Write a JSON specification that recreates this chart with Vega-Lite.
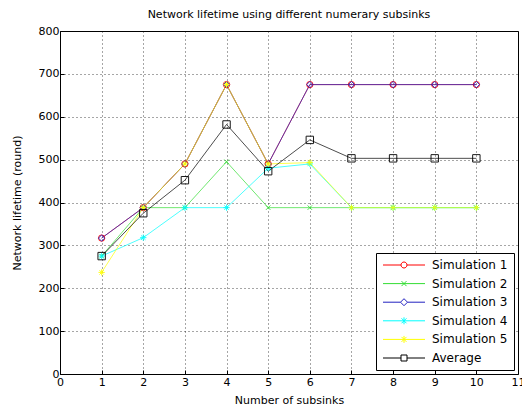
{
  "$schema": "https://vega.github.io/schema/vega-lite/v6.json",
  "width": 458,
  "height": 343,
  "autosize": {"type": "none"},
  "padding": {"left": 60, "top": 31, "right": 4, "bottom": 38},
  "background": "white",
  "title": {"text": "Network lifetime using different numerary subsinks", "fontSize": 11, "font": "DejaVu Sans", "fontWeight": "normal", "color": "black", "offset": 5},
  "config": {
    "font": "DejaVu Sans",
    "view": {"stroke": "black", "strokeWidth": 1},
    "axis": {"labelFont": "DejaVu Sans", "titleFont": "DejaVu Sans", "labelFontSize": 11, "titleFontSize": 11, "titleFontWeight": "normal", "labelColor": "black", "titleColor": "black", "domain": false, "tickColor": "black", "tickSize": -4, "grid": true, "gridColor": "black", "gridOpacity": 0.7, "gridDash": [1, 3], "labelFlush": false},
    "legend": {"labelFont": "DejaVu Sans", "labelFontSize": 12, "labelColor": "black"}
  },
  "data": {"values": [
    {"x": 1, "series": "Simulation 1", "v": 317}, {"x": 2, "series": "Simulation 1", "v": 388}, {"x": 3, "series": "Simulation 1", "v": 490}, {"x": 4, "series": "Simulation 1", "v": 675}, {"x": 5, "series": "Simulation 1", "v": 490}, {"x": 6, "series": "Simulation 1", "v": 675}, {"x": 7, "series": "Simulation 1", "v": 675}, {"x": 8, "series": "Simulation 1", "v": 675}, {"x": 9, "series": "Simulation 1", "v": 675}, {"x": 10, "series": "Simulation 1", "v": 675},
    {"x": 1, "series": "Simulation 2", "v": 275}, {"x": 2, "series": "Simulation 2", "v": 388}, {"x": 3, "series": "Simulation 2", "v": 388}, {"x": 4, "series": "Simulation 2", "v": 495}, {"x": 5, "series": "Simulation 2", "v": 388}, {"x": 6, "series": "Simulation 2", "v": 388}, {"x": 7, "series": "Simulation 2", "v": 388}, {"x": 8, "series": "Simulation 2", "v": 388}, {"x": 9, "series": "Simulation 2", "v": 388}, {"x": 10, "series": "Simulation 2", "v": 388},
    {"x": 1, "series": "Simulation 3", "v": 317}, {"x": 2, "series": "Simulation 3", "v": 388}, {"x": 3, "series": "Simulation 3", "v": 490}, {"x": 4, "series": "Simulation 3", "v": 675}, {"x": 5, "series": "Simulation 3", "v": 490}, {"x": 6, "series": "Simulation 3", "v": 675}, {"x": 7, "series": "Simulation 3", "v": 675}, {"x": 8, "series": "Simulation 3", "v": 675}, {"x": 9, "series": "Simulation 3", "v": 675}, {"x": 10, "series": "Simulation 3", "v": 675},
    {"x": 1, "series": "Simulation 4", "v": 275}, {"x": 2, "series": "Simulation 4", "v": 318}, {"x": 3, "series": "Simulation 4", "v": 388}, {"x": 4, "series": "Simulation 4", "v": 388}, {"x": 5, "series": "Simulation 4", "v": 480}, {"x": 6, "series": "Simulation 4", "v": 490}, {"x": 7, "series": "Simulation 4", "v": 388}, {"x": 8, "series": "Simulation 4", "v": 388}, {"x": 9, "series": "Simulation 4", "v": 388}, {"x": 10, "series": "Simulation 4", "v": 388},
    {"x": 1, "series": "Simulation 5", "v": 237}, {"x": 2, "series": "Simulation 5", "v": 388}, {"x": 3, "series": "Simulation 5", "v": 490}, {"x": 4, "series": "Simulation 5", "v": 675}, {"x": 5, "series": "Simulation 5", "v": 490}, {"x": 6, "series": "Simulation 5", "v": 493}, {"x": 7, "series": "Simulation 5", "v": 388}, {"x": 8, "series": "Simulation 5", "v": 388}, {"x": 9, "series": "Simulation 5", "v": 388}, {"x": 10, "series": "Simulation 5", "v": 388},
    {"x": 1, "series": "Average", "v": 275}, {"x": 2, "series": "Average", "v": 375}, {"x": 3, "series": "Average", "v": 452}, {"x": 4, "series": "Average", "v": 582}, {"x": 5, "series": "Average", "v": 473}, {"x": 6, "series": "Average", "v": 546}, {"x": 7, "series": "Average", "v": 503}, {"x": 8, "series": "Average", "v": 503}, {"x": 9, "series": "Average", "v": 503}, {"x": 10, "series": "Average", "v": 503}
  ]},
  "encoding": {
    "x": {"field": "x", "type": "quantitative", "scale": {"domain": [0, 11], "nice": false}, "axis": {"values": [0,1,2,3,4,5,6,7,8,9,10,11], "title": "Number of subsinks", "labelPadding": 6, "titlePadding": 7}},
    "y": {"field": "v", "type": "quantitative", "scale": {"domain": [0, 800], "nice": false}, "axis": {"values": [0,100,200,300,400,500,600,700,800], "title": "Network lifetime (round)", "labelPadding": 5, "titlePadding": 16}}
  },
  "layer": [
    {"transform": [{"filter": "datum.x > 100"}],
     "mark": {"type": "point", "filled": false, "strokeWidth": 1},
     "encoding": {
       "color": {"field": "series", "type": "nominal", "scale": {"domain": ["Simulation 1", "Simulation 2", "Simulation 3", "Simulation 4", "Simulation 5", "Average"], "range": ["#ff0000", "#33dd33", "#2020c0", "#00ffff", "#ffff00", "#000000"]}, "legend": {"title": null, "orient": "bottom-right", "offset": 4, "symbolSize": 100, "symbolStrokeWidth": 1, "fillColor": "white", "strokeColor": "black", "padding": 6, "rowPadding": 6.6, "labelOffset": 38, "symbolOpacity": 1}},
       "shape": {"field": "series", "type": "nominal", "legend": {"title": null, "orient": "bottom-right", "offset": 4, "symbolSize": 100, "symbolStrokeWidth": 1, "fillColor": "white", "strokeColor": "black", "padding": 6, "rowPadding": 6.6, "labelOffset": 38, "symbolOpacity": 1}, "scale": {"domain": ["Simulation 1", "Simulation 2", "Simulation 3", "Simulation 4", "Simulation 5", "Average"], "range": [
         "M-1,0L2.6,0M3.8,0L7.4,0M3.8,0A0.6,0.6 0 1,1 2.6,0A0.6,0.6 0 1,1 3.8,0",
         "M-1,0L7.4,0M2.7,-0.5L3.7,0.5M2.7,0.5L3.7,-0.5",
         "M-1,0L2.5,0M3.9,0L7.4,0M2.5,0L3.2,-0.7L3.9,0L3.2,0.7Z",
         "M-1,0L7.4,0M3.2,-0.7L3.2,0.7M2.7,-0.5L3.7,0.5M2.7,0.5L3.7,-0.5",
         "M-1,0L7.4,0M3.2,-0.7L3.2,0.7M2.7,-0.5L3.7,0.5M2.7,0.5L3.7,-0.5",
         "M-1,0L2.6,0M3.8,0L7.4,0M2.6,-0.6L3.8,-0.6L3.8,0.6L2.6,0.6Z"]}}
     }},
    {"mark": {"type": "line", "strokeWidth": 1, "opacity": 0.7}, "encoding": {"order": {"field": "x"}, "color": {"field": "series", "type": "nominal", "legend": null}}},
    {"transform": [{"filter": "datum.series == 'Simulation 1'"}], "mark": {"type": "point", "filled": false, "strokeWidth": 1, "size": 40, "opacity": 0.9, "shape": "circle"}, "encoding": {"color": {"field": "series", "type": "nominal", "legend": null}}},
    {"transform": [{"filter": "datum.series == 'Simulation 2'"}], "mark": {"type": "point", "filled": false, "strokeWidth": 1, "size": 30, "opacity": 0.9, "shape": "M-0.8,-0.8L0.8,0.8M-0.8,0.8L0.8,-0.8"}, "encoding": {"color": {"field": "series", "type": "nominal", "legend": null}}},
    {"transform": [{"filter": "datum.series == 'Simulation 3'"}], "mark": {"type": "point", "filled": false, "strokeWidth": 1, "size": 40, "opacity": 0.9, "shape": "diamond"}, "encoding": {"color": {"field": "series", "type": "nominal", "legend": null}}},
    {"transform": [{"filter": "datum.series == 'Simulation 4'"}], "mark": {"type": "point", "filled": false, "strokeWidth": 1, "size": 40, "opacity": 0.9, "shape": "M-1,0L1,0M0,-1L0,1M-0.7,-0.7L0.7,0.7M-0.7,0.7L0.7,-0.7"}, "encoding": {"color": {"field": "series", "type": "nominal", "legend": null}}},
    {"transform": [{"filter": "datum.series == 'Simulation 5'"}], "mark": {"type": "point", "filled": false, "strokeWidth": 1, "size": 40, "opacity": 0.9, "shape": "M-1,0L1,0M0,-1L0,1M-0.7,-0.7L0.7,0.7M-0.7,0.7L0.7,-0.7"}, "encoding": {"color": {"field": "series", "type": "nominal", "legend": null}}},
    {"transform": [{"filter": "datum.series == 'Average'"}], "mark": {"type": "point", "filled": false, "strokeWidth": 1, "size": 55, "opacity": 0.9, "shape": "square"}, "encoding": {"color": {"field": "series", "type": "nominal", "legend": null}}}
  ]
}
